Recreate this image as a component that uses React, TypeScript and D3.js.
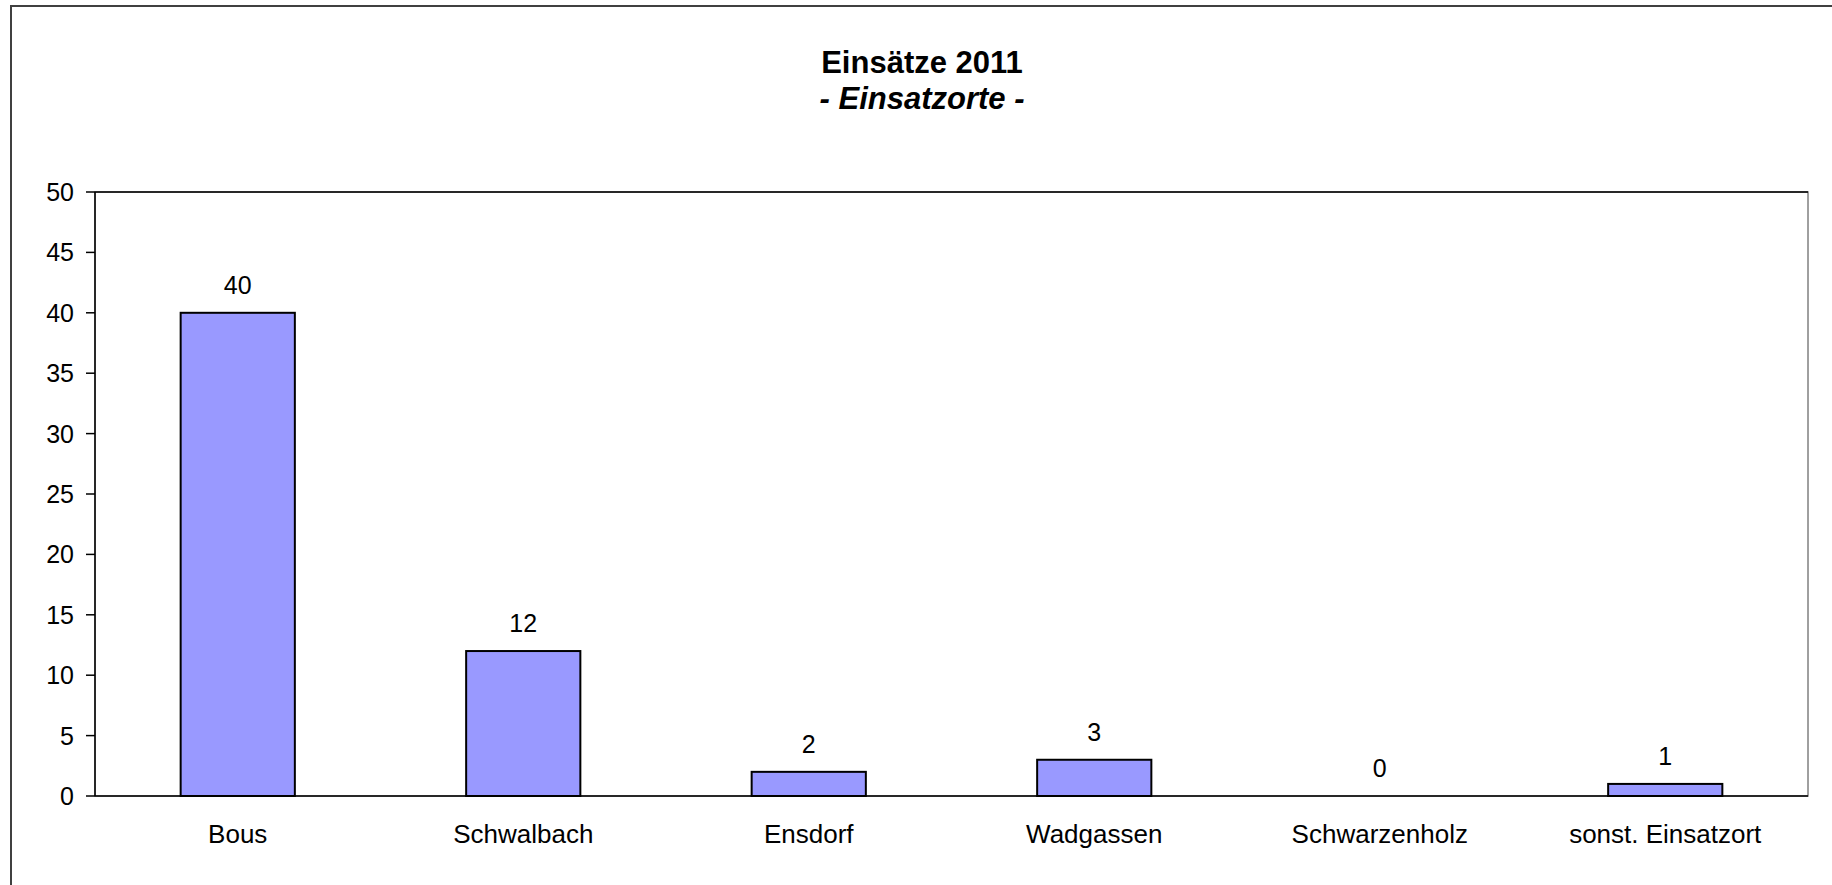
import React from "react";
import * as d3 from "d3";

const categories = ["Bous", "Schwalbach", "Ensdorf", "Wadgassen", "Schwarzenholz", "sonst. Einsatzort"];
const values = [40, 12, 2, 3, 0, 1];
const yTicks = [0, 5, 10, 15, 20, 25, 30, 35, 40, 45, 50];
const titleLine1 = "Einsätze 2011";
const titleLine2 = "- Einsatzorte -";

export default function App() {
  const W = 1832, H = 885;
  const left = 95, right = 1808, top = 192, bottom = 796;
  const x = d3.scaleBand<string>().domain(categories).range([left, right]).paddingInner(0.6).paddingOuter(0.3);
  const y = d3.scaleLinear().domain([0, 50]).range([bottom, top]);
  const font = "'Liberation Sans', Arial, sans-serif";
  return (
    <svg width={W} height={H} style={{ position: "absolute", left: 0, top: 0, background: "#fff" }} fontFamily={font}>
      <rect x={11} y={6} width={W + 20} height={H + 20} fill="#fff" stroke="#404040" strokeWidth={2} />
      <text x={922} y={72.5} textAnchor="middle" fontSize={31} fontWeight="bold">{titleLine1}</text>
      <text x={922} y={108.5} textAnchor="middle" fontSize={31} fontWeight="bold" fontStyle="italic">{titleLine2}</text>
      <rect x={left} y={top} width={right - left} height={bottom - top} fill="#fff" stroke="#808080" strokeWidth={1.5} />
      <line x1={left} x2={right} y1={top} y2={top} stroke="#000" strokeWidth={1.5} />
      {values.map((v, i) => {
        const bx = x(categories[i])!;
        const bw = x.bandwidth();
        return (
          <g key={i}>
            {v > 0 && (
              <rect x={bx} y={y(v)} width={bw} height={y(0) - y(v)} fill="#9999FF" stroke="#000" strokeWidth={2} />
            )}
            <text x={bx + bw / 2} y={y(v) - 19} textAnchor="middle" fontSize={25}>{v}</text>
            <text x={bx + bw / 2} y={842.5} textAnchor="middle" fontSize={26}>{categories[i]}</text>
          </g>
        );
      })}
      <line x1={left} x2={left} y1={top} y2={bottom} stroke="#000" strokeWidth={1.5} />
      <line x1={left} x2={right} y1={bottom} y2={bottom} stroke="#000" strokeWidth={1.5} />
      {yTicks.map((t) => (
        <g key={t}>
          <line x1={86} x2={left} y1={y(t)} y2={y(t)} stroke="#000" strokeWidth={1.5} />
          <text x={74} y={y(t)} dy="0.36em" textAnchor="end" fontSize={25}>{t}</text>
        </g>
      ))}
    </svg>
  );
}
